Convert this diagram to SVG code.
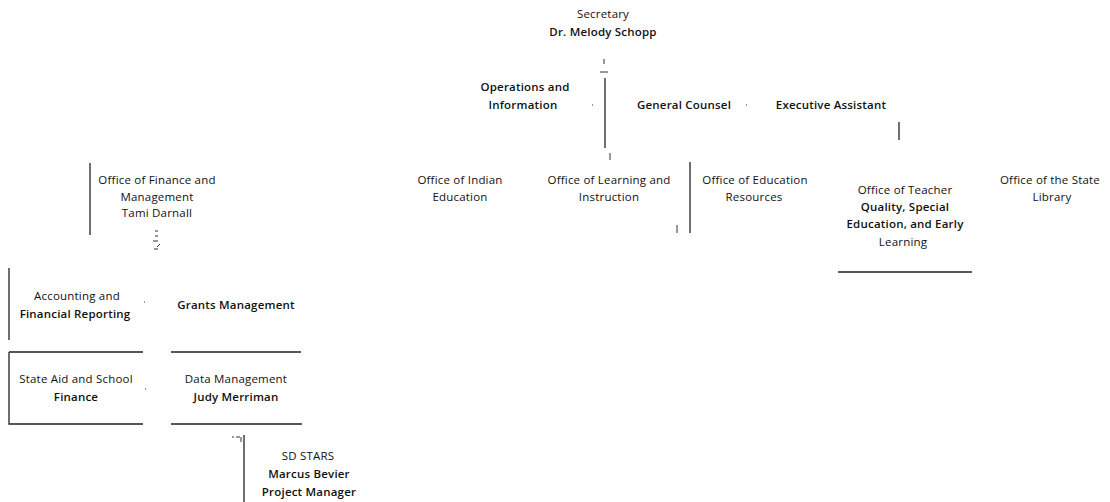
<svg xmlns="http://www.w3.org/2000/svg" width="1110" height="502" viewBox="0 0 1110 502">
<style>
text{font-family:"Open Sans","Noto Sans","Liberation Sans",sans-serif;font-size:11.5px;letter-spacing:0.2px;fill:#111;text-anchor:middle}
.b{font-weight:600}
.ln{stroke:#222;stroke-width:1.3;fill:none}
.tk{stroke:#333;stroke-width:1;fill:none}
</style>
<rect width="1110" height="502" fill="#fff"/>
<g id="connectors">
<path class="tk" d="M604 59v5M600 72h8"/>
<path class="ln" d="M605 78v70"/>
<path class="tk" d="M610 153v7M592 105h1M746 105h1"/>
<path class="ln" d="M899 122v18"/>
<path class="ln" d="M690 162v71"/>
<path class="tk" d="M677 225v8"/>
<path class="ln" d="M838 272h134"/>
<path class="ln" d="M90 163v72"/>
<path class="tk" d="M155 231h3M155 236h3M153 241h5M160 244l-3 3M154 249h4"/>
<path class="ln" d="M9 268v72"/>
<path class="tk" d="M144 302h1M145 389h1"/>
<path class="ln" d="M9 352h134M9 352v72h134"/>
<path class="ln" d="M171 352h130M171 424h131"/>
<path class="tk" d="M232 437h2M236 437h4M241 437v5"/>
<path class="ln" d="M244 435v67"/>
</g>
<g id="secretary"><text x="603" y="17.5">Secretary</text><text class="b" x="603" y="35.5">Dr. Melody Schopp</text></g>
<g id="operations"><text class="b" x="525" y="91">Operations and</text><text class="b" x="523" y="108.5">Information</text></g>
<g id="general-counsel"><text class="b" x="684" y="108.5">General Counsel</text></g>
<g id="executive-assistant"><text class="b" x="831" y="108.5">Executive Assistant</text></g>
<g id="indian-ed"><text x="460" y="183.5">Office of Indian</text><text x="460" y="200.5">Education</text></g>
<g id="learning"><text x="609" y="183.5">Office of Learning and</text><text x="609" y="200.5">Instruction</text></g>
<g id="ed-resources"><text x="755" y="183.5">Office of Education</text><text x="754" y="200.5">Resources</text></g>
<g id="teacher-quality"><text x="905" y="193.5">Office of Teacher</text><text class="b" x="905" y="210.5">Quality, Special</text><text class="b" x="905" y="227.5">Education, and Early</text><text x="903" y="245.5">Learning</text></g>
<g id="state-library"><text x="1050" y="183.5">Office of the State</text><text x="1052" y="200.5">Library</text></g>
<g id="finance"><text x="157" y="183.5">Office of Finance and</text><text x="157" y="200.5">Management</text><text x="157" y="216.5">Tami Darnall</text></g>
<g id="accounting"><text x="77" y="299.5">Accounting and</text><text class="b" x="75" y="317.5">Financial Reporting</text></g>
<g id="grants"><text class="b" x="236" y="308.5">Grants Management</text></g>
<g id="state-aid"><text x="76" y="382.5">State Aid and School</text><text class="b" x="76" y="400.5">Finance</text></g>
<g id="data-mgmt"><text x="236" y="382.5">Data Management</text><text class="b" x="236" y="400.5">Judy Merriman</text></g>
<g id="sd-stars"><text x="308" y="459.5">SD STARS</text><text class="b" x="309" y="477.5">Marcus Bevier</text><text class="b" x="309" y="495.5">Project Manager</text></g>
</svg>
